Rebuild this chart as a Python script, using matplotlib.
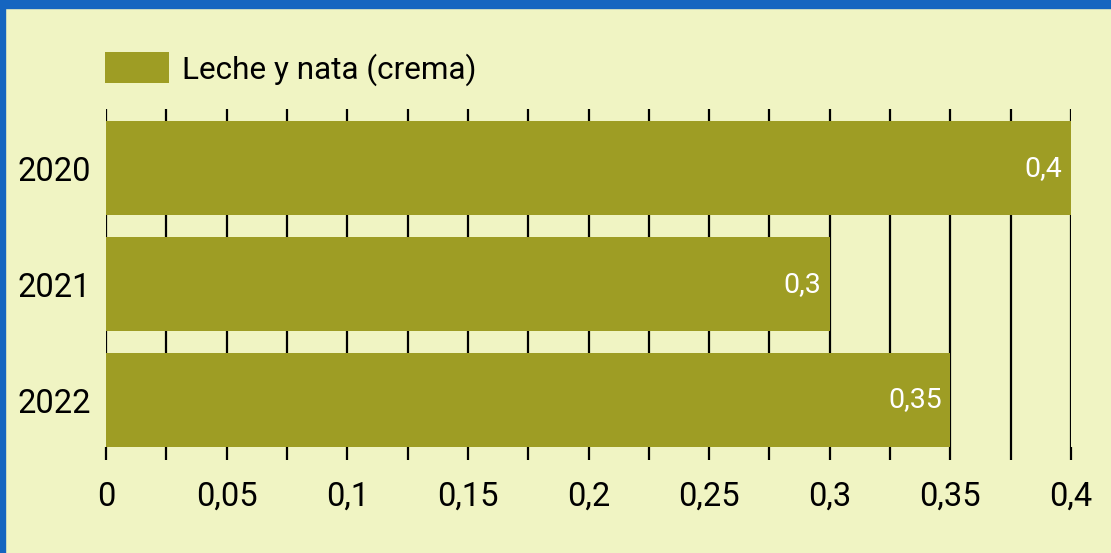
import matplotlib
matplotlib.use("Agg")
import matplotlib.pyplot as plt
from matplotlib.patches import Rectangle
from matplotlib.ticker import FuncFormatter
import numpy as np

plt.rcParams['font.family'] = ['Roboto', 'DejaVu Sans']

# datos
years = ['2020', '2021', '2022']
values = [0.4, 0.3, 0.35]
serie = 'Leche y nata (crema)'

bg = '#f0f4c3'
bar_color = '#9e9d24'
border = '#1565c0'

W, H = 1111, 553
fig = plt.figure(figsize=(W / 100, H / 100), dpi=100)
fig.patch.set_facecolor(bg)

# borde azul arriba e izquierda
fig.patches.append(Rectangle((0, 1 - 8 / H), 1, 8 / H, transform=fig.transFigure,
                             color=border, zorder=0))
fig.patches.append(Rectangle((0, 0), 5 / W, 1, transform=fig.transFigure,
                             color=border, zorder=0))

ax = fig.add_axes([106 / W, 1 - 447 / H, 965 / W, (447 - 109) / H])
ax.set_facecolor(bg)

pos = np.arange(len(years))
bars = ax.barh(pos, values, height=0.81, color=bar_color, label=serie, zorder=2)

for b, v in zip(bars, values):
    ax.text(b.get_width() - 0.0035, b.get_y() + b.get_height() / 2,
            str(v).replace('.', ','), ha='right', va='center',
            color='white', fontsize=20.5, zorder=3)

ax.set_xlim(0, 0.4)
ax.set_ylim(2.405, -0.509)
ax.set_yticks(pos)
ax.set_yticklabels(years)

ax.set_xticks(np.arange(0, 0.4001, 0.05))
ax.set_xticks(np.arange(0.025, 0.4, 0.05), minor=True)
ax.xaxis.set_major_formatter(FuncFormatter(lambda x, p: ('%g' % round(x, 3)).replace('.', ',')))

ax.grid(axis='x', which='both', color='black', linewidth=1.6, zorder=1)
ax.set_axisbelow(True)
for sp in ax.spines.values():
    sp.set_visible(False)

ax.tick_params(axis='x', which='both', direction='out', length=9.5, width=1.6,
               color='black', labelsize=23.5, pad=15)
ax.tick_params(axis='y', length=0, labelsize=23.5, pad=11)

leg = ax.legend(loc='upper left', bbox_to_anchor=(105 / W, 1 - 52 / H),
                bbox_transform=fig.transFigure, frameon=False, fontsize=22.7,
                borderpad=0, borderaxespad=0, handlelength=2.03, handleheight=1.15,
                handletextpad=0.42)

fig.savefig('out.png', dpi=100, facecolor=bg)
